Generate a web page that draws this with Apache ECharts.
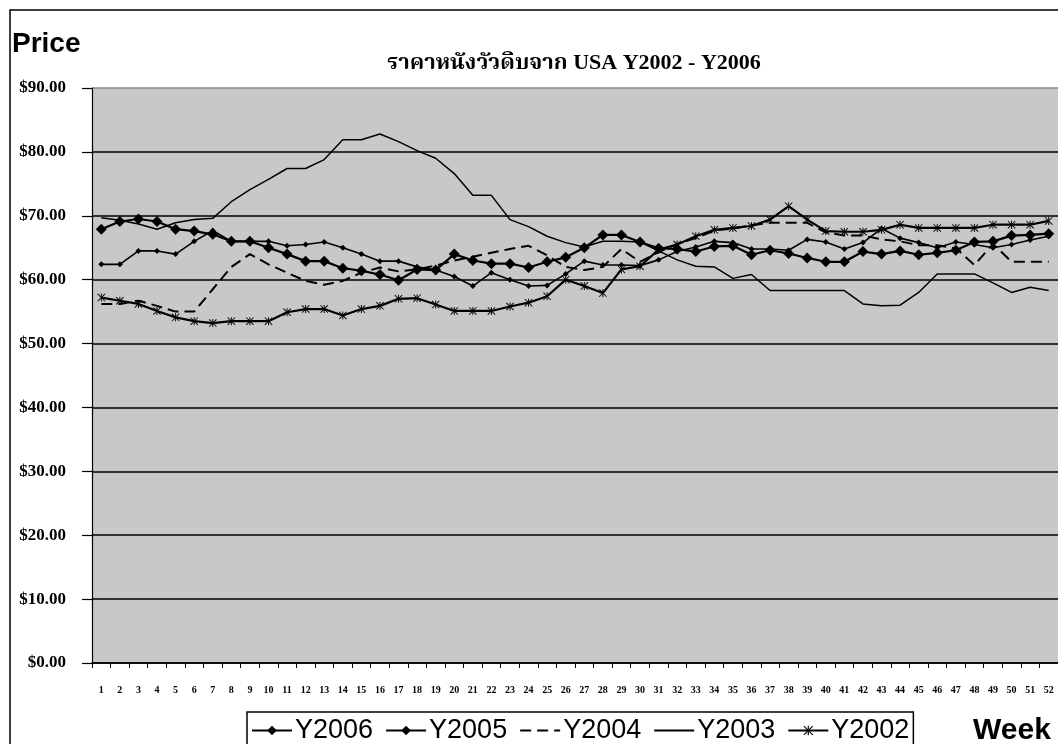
<!DOCTYPE html>
<html>
<head>
<meta charset="utf-8">
<script src="https://cdn.jsdelivr.net/npm/echarts@6/dist/echarts.min.js"></script>
<style>
html,body{margin:0;padding:0;background:#fff;}
#chart{width:1058px;height:744px;}
</style>
</head>
<body>
<div id="chart"></div>
<script>
var weeks = ['1','2','3','4','5','6','7','8','9','10','11','12','13','14','15','16','17','18','19','20','21','22','23','24','25','26','27','28','29','30','31','32','33','34','35','36','37','38','39','40','41','42','43','44','45','46','47','48','49','50','51','52'];
var yTicks = [0,10,20,30,40,50,60,70,80,90];

var y2006 = [67.9,69.1,69.5,69.1,67.9,67.6,67.1,66.0,66.0,65.0,64.0,62.9,62.9,61.8,61.4,60.8,59.9,61.6,
             61.5,64.0,63.0,62.5,62.5,61.9,62.8,63.5,65.0,67.0,67.0,65.9,64.9,64.8,64.4,65.2,
             65.3,63.9,64.6,64.1,63.4,62.8,62.8,64.4,64.0,64.5,63.9,64.2,64.6,65.9,66.0,66.9,67.0,67.2];
var y2005 = [62.4,62.4,64.5,64.5,64.0,66.0,67.7,66.0,66.0,66.0,65.3,65.5,65.9,65.0,64.0,62.9,62.9,62.0,
             61.5,60.5,59.0,61.1,60.0,59.0,59.1,60.9,62.9,62.3,62.3,62.2,63.1,64.4,65.1,66.0,
             65.8,64.8,64.8,64.6,66.3,65.9,64.8,65.8,68.0,66.5,65.8,65.0,65.9,65.5,65.0,65.5,66.2,66.8];
var y2004 = [56.2,56.2,56.7,55.9,55.0,55.0,58.5,62.0,64.0,62.4,61.1,59.8,59.2,59.8,61.1,61.9,61.3,61.6,
             62.2,63.0,63.6,64.2,64.8,65.3,63.8,62.0,61.5,62.0,64.8,62.8,64.3,65.6,66.5,67.7,
             68.0,68.5,68.9,68.9,68.9,67.4,66.9,66.9,66.3,66.0,65.4,65.4,64.9,62.3,65.6,62.8,62.8,62.8];
var y2003 = [69.7,69.3,68.7,67.9,68.9,69.4,69.6,72.2,74.1,75.7,77.4,77.4,78.8,81.9,81.9,82.8,81.6,80.2,
             79.0,76.6,73.2,73.2,69.4,68.3,66.8,65.8,65.1,66.0,66.0,65.9,64.5,63.1,62.1,62.0,
             60.2,60.8,58.3,58.3,58.3,58.3,58.3,56.2,55.9,56.0,58.0,60.9,60.9,60.9,59.5,58.0,58.8,58.3];
var y2002 = [57.2,56.7,56.2,55.1,54.1,53.5,53.2,53.5,53.5,53.5,54.9,55.4,55.4,54.4,55.4,55.9,57.0,57.1,
             56.1,55.1,55.1,55.1,55.8,56.4,57.4,60.0,59.0,57.9,61.6,62.1,64.7,65.5,66.8,67.8,
             68.1,68.4,69.4,71.5,69.4,67.6,67.5,67.5,67.8,68.6,68.1,68.1,68.1,68.1,68.6,68.6,68.6,69.2];

var titleText = 'ราคาหนังวัวดิบจาก USA Y2002 - Y2006';
var starPath = 'path://M4.4,0H5.6V10H4.4Z M0,0.8L0.8,0L10,9.2L9.2,10Z M10,0.8L9.2,0L0,9.2L0.8,10Z';

var chart = echarts.init(document.getElementById('chart'));
var serif = "'Liberation Serif','Noto Serif Thai','Norasi','Noto Sans Thai',serif";

function mk(name, data, opt) {
  return Object.assign({
    name: name, type: 'line', data: data, animation: false,
    itemStyle: {color: '#000'},
    emphasis: {disabled: true}
  }, opt);
}

chart.setOption({
  backgroundColor: '#ffffff',
  animation: false,
  grid: {left: 92, right: -7, top: 88, bottom: 81, show: true, backgroundColor: '#c8c8c8', borderWidth: 0},
  graphic: [
    {type: 'rect', shape: {x: 10, y: 10, width: 1100, height: 800}, style: {fill: 'none', stroke: '#000', lineWidth: 1.5}, silent: true},
    {type: 'text', left: 12, top: 30, style: {text: 'Price', font: "bold 28px 'Liberation Sans', Arial, sans-serif", fill: '#000'}},
    {type: 'text', x: 574, y: 63, style: {text: titleText, font: "bold 22px " + serif, fill: '#000', textAlign: 'center', textVerticalAlign: 'middle'}},
    {type: 'text', left: 973, top: 716, style: {text: 'Week', font: "bold 30px 'Liberation Sans', Arial, sans-serif", fill: '#000'}}
  ],
  legend: {
    left: 247, top: 712, orient: 'horizontal',
    padding: [5, 4, 12, 4], itemGap: 12, itemWidth: 40, itemHeight: 12,
    borderColor: '#000', borderWidth: 1.5, backgroundColor: '#fff',
    textStyle: {fontFamily: "'Liberation Sans', Arial, sans-serif", fontSize: 27, color: '#000', padding: [0,0,0,-2]},
    data: ['Y2006','Y2005',{name: 'Y2004', itemStyle: {opacity: 0}},{name: 'Y2003', itemStyle: {opacity: 0}},'Y2002']
  },
  xAxis: {
    type: 'category', data: weeks, boundaryGap: true,
    axisLine: {lineStyle: {color: '#000', width: 1.5}},
    axisTick: {show: true, length: 5, inside: false, lineStyle: {color: '#000', width: 1}},
    axisLabel: {interval: 0, margin: 22, fontFamily: "'Liberation Serif', serif", fontWeight: 'bold', fontSize: 10, color: '#000'},
    splitLine: {show: false}
  },
  yAxis: {
    type: 'value', min: 0, max: 90, interval: 10,
    axisLine: {show: true, lineStyle: {color: '#000', width: 1.2}},
    axisTick: {show: true, length: 10, lineStyle: {color: '#000', width: 1.2}},
    axisLabel: {margin: 26, fontFamily: "'Liberation Serif', serif", fontWeight: 'bold', fontSize: 17, color: '#000',
      formatter: function (v) { return '$' + v.toFixed(2); }},
    splitLine: {show: true, lineStyle: {color: ['#000','#000','#000','#000','#000','#000','#000','#000','#000','#8a8a8a'], width: 1.6}}
  },
  series: [
    mk('Y2006', y2006, {symbol: 'diamond', symbolSize: 11, lineStyle: {color: '#000', width: 2.2}}),
    mk('Y2005', y2005, {symbol: 'diamond', symbolSize: 6, lineStyle: {color: '#000', width: 1.6}}),
    mk('Y2004', y2004, {symbol: 'none', showSymbol: false, lineStyle: {color: '#000', width: 2, type: [11, 6]}}),
    mk('Y2003', y2003, {symbol: 'none', showSymbol: false, lineStyle: {color: '#000', width: 1.5}}),
    mk('Y2002', y2002, {symbol: starPath, symbolSize: 8, lineStyle: {color: '#000', width: 2.2}})
  ]
});
</script>
</body>
</html>
